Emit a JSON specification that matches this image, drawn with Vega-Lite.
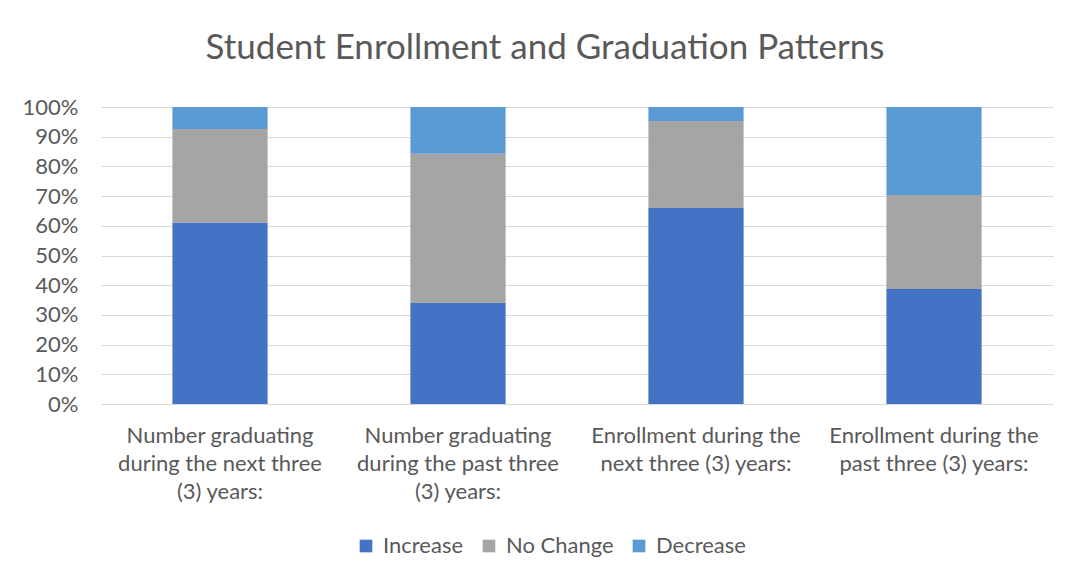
{
  "$schema": "https://vega.github.io/schema/vega-lite/v6.json",
  "autosize": {"type": "none"},
  "width": 952,
  "height": 297,
  "padding": {"left": 101, "top": 107, "right": 18, "bottom": 175},
  "background": "white",
  "title": {
    "text": "Student Enrollment and Graduation Patterns",
    "font": "Lato",
    "fontSize": 35,
    "fontWeight": "normal",
    "color": "#595959",
    "anchor": "middle",
    "offset": 30,
    "dx": -32
  },
  "data": {
    "values": [
      {"cat": "Number graduating during the next three (3) years:", "ci": 1, "status": "Increase", "ord": 1, "pct": 0.611},
      {"cat": "Number graduating during the next three (3) years:", "ci": 1, "status": "No Change", "ord": 2, "pct": 0.315},
      {"cat": "Number graduating during the next three (3) years:", "ci": 1, "status": "Decrease", "ord": 3, "pct": 0.074},
      {"cat": "Number graduating during the past three (3) years:", "ci": 2, "status": "Increase", "ord": 1, "pct": 0.340},
      {"cat": "Number graduating during the past three (3) years:", "ci": 2, "status": "No Change", "ord": 2, "pct": 0.503},
      {"cat": "Number graduating during the past three (3) years:", "ci": 2, "status": "Decrease", "ord": 3, "pct": 0.157},
      {"cat": "Enrollment during the next three (3) years:", "ci": 3, "status": "Increase", "ord": 1, "pct": 0.660},
      {"cat": "Enrollment during the next three (3) years:", "ci": 3, "status": "No Change", "ord": 2, "pct": 0.293},
      {"cat": "Enrollment during the next three (3) years:", "ci": 3, "status": "Decrease", "ord": 3, "pct": 0.047},
      {"cat": "Enrollment during the past three (3) years:", "ci": 4, "status": "Increase", "ord": 1, "pct": 0.387},
      {"cat": "Enrollment during the past three (3) years:", "ci": 4, "status": "No Change", "ord": 2, "pct": 0.317},
      {"cat": "Enrollment during the past three (3) years:", "ci": 4, "status": "Decrease", "ord": 3, "pct": 0.296}
    ]
  },
  "mark": {"type": "bar"},
  "encoding": {
    "x": {
      "field": "cat",
      "type": "nominal",
      "sort": {"field": "ci"},
      "scale": {"paddingInner": 0.6, "paddingOuter": 0.3},
      "axis": {
        "title": null,
        "labelAngle": 0,
        "labelFont": "Lato",
        "labelFontSize": 22,
        "labelColor": "#595959",
        "labelLineHeight": 28,
        "labelPadding": 21,
        "labelLimit": 300,
        "labelOverlap": false,
        "ticks": false,
        "domain": false,
        "labelExpr": "datum.value == 'Number graduating during the next three (3) years:' ? ['Number graduating', 'during the next three', '(3) years:'] : datum.value == 'Number graduating during the past three (3) years:' ? ['Number graduating', 'during the past three', '(3) years:'] : datum.value == 'Enrollment during the next three (3) years:' ? ['Enrollment during the', 'next three (3) years:'] : ['Enrollment during the', 'past three (3) years:']"
      }
    },
    "y": {
      "field": "pct",
      "type": "quantitative",
      "stack": "normalize",
      "scale": {"domain": [0, 1]},
      "axis": {
        "title": null,
        "format": ".0%",
        "values": [0, 0.1, 0.2, 0.3, 0.4, 0.5, 0.6, 0.7, 0.8, 0.9, 1],
        "labelOverlap": false,
        "labelFont": "Lato",
        "labelFontSize": 22,
        "labelColor": "#595959",
        "labelPadding": 23,
        "ticks": false,
        "domain": false,
        "grid": true,
        "gridColor": "#d9d9d9",
        "gridWidth": 1
      }
    },
    "color": {
      "field": "status",
      "type": "nominal",
      "sort": ["Increase", "No Change", "Decrease"],
      "scale": {"domain": ["Increase", "No Change", "Decrease"], "range": ["#4472C4", "#A5A5A5", "#5B9BD5"]},
      "legend": {
        "title": null,
        "orient": "none",
        "direction": "horizontal",
        "legendX": 254,
        "legendY": 428,
        "symbolType": "square",
        "symbolSize": 160,
        "symbolStrokeWidth": 0,
        "labelFont": "Lato",
        "labelFontSize": 22,
        "labelColor": "#595959",
        "columnPadding": 14,
        "labelOffset": 6
      }
    },
    "order": {"field": "ord", "type": "quantitative"}
  },
  "config": {
    "view": {"stroke": null}
  }
}
